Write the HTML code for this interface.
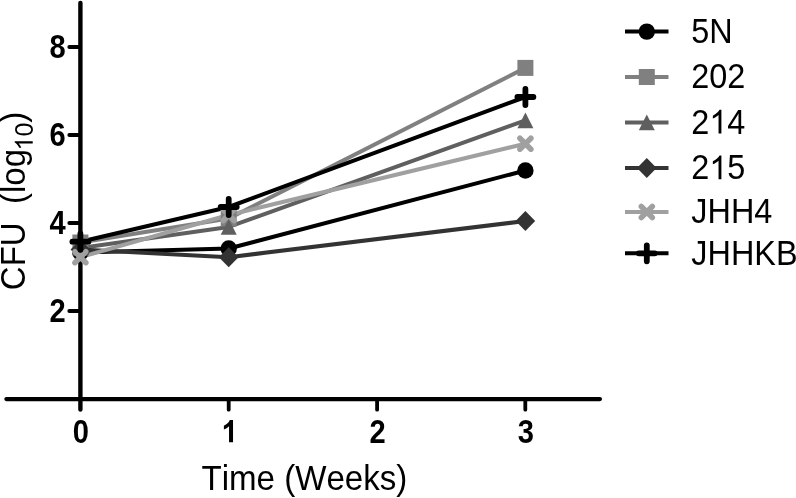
<!DOCTYPE html>
<html><head><meta charset="utf-8"><style>
html,body{margin:0;padding:0;background:#fff;width:796px;height:498px;overflow:hidden}
svg{display:block;will-change:transform;font-family:"Liberation Sans",sans-serif} text{font-kerning:none}
</style></head><body>
<svg width="796" height="498" viewBox="0 0 796 498">
<g stroke="#000" stroke-linecap="round" fill="none">
<path d="M80.4,3V409.5" stroke-width="4.4"/>
<path d="M6.4,399.1H599.9" stroke-width="4.3"/>
<path d="M69.3,47H80" stroke-width="3.8"/>
<path d="M69.3,135H80" stroke-width="3.8"/>
<path d="M69.3,223H80" stroke-width="3.8"/>
<path d="M69.3,311H80" stroke-width="3.8"/>
<path d="M228.7,399V409.7" stroke-width="3.8"/>
<path d="M377.1,399V409.7" stroke-width="3.8"/>
<path d="M525.3,399V409.7" stroke-width="3.8"/>
</g>
<g font-family="Liberation Sans, sans-serif" font-weight="bold" font-size="30" fill="#000">
<text transform="translate(57.5,57.8) scale(0.97,1.08)" text-anchor="middle">8</text>
<text transform="translate(57.5,145.8) scale(0.97,1.08)" text-anchor="middle">6</text>
<text transform="translate(57.5,233.8) scale(0.97,1.08)" text-anchor="middle">4</text>
<text transform="translate(57.5,321.8) scale(0.97,1.08)" text-anchor="middle">2</text>
<text transform="translate(80.8,443) scale(0.97,1.08)" text-anchor="middle">0</text>
<g transform="translate(228.9,442.2) scale(0.97,1.025)"><path transform="translate(-8.34,0) scale(0.01465,-0.01465)" d="M860 0H579V1059Q425 915 216 846V1101Q326 1137 455 1237Q584 1337 632 1472H860V0Z"/></g>
<text transform="translate(377.5,443) scale(0.97,1.08)" text-anchor="middle">2</text>
<text transform="translate(525.8,443) scale(0.97,1.08)" text-anchor="middle">3</text>
</g>
<g font-family="Liberation Sans, sans-serif" font-size="32" fill="#000">
<text transform="translate(304.4,490) scale(1,1.045)" font-size="33.1" text-anchor="middle">Time (Weeks)</text>
<g transform="translate(25.0,290.2) rotate(-90) scale(1,1.045)" font-size="33"><text x="0" y="0" xml:space="preserve">CFU  (log</text><g font-size="25"><path transform="translate(139.68,7.4) scale(0.01221,-0.01172)" d="M763 0H583V1147Q518 1085 412.5 1023Q307 961 223 930V1104Q374 1175 487 1276Q600 1377 647 1472H763V0Z"/><text x="153.59" y="7.4" xml:space="preserve">0</text></g><text x="167.49" y="0">)</text></g>
</g>
<polyline points="80.4,252.5 228.7,248.5 525.4,170.5" fill="none" stroke="#000000" stroke-width="4.0" stroke-linejoin="round"/>
<polyline points="80.4,242.5 228.7,218.5 525.4,67.9" fill="none" stroke="#808080" stroke-width="4.0" stroke-linejoin="round"/>
<polyline points="80.4,248.0 228.7,226.9 525.4,120.4" fill="none" stroke="#5f5f5f" stroke-width="4.0" stroke-linejoin="round"/>
<polyline points="80.4,249.5 228.7,257.2 525.4,221.0" fill="none" stroke="#333333" stroke-width="4.0" stroke-linejoin="round"/>
<polyline points="80.4,257.2 228.7,215.0 525.4,143.7" fill="none" stroke="#a0a0a0" stroke-width="4.0" stroke-linejoin="round"/>
<polyline points="80.4,241.7 228.7,207.0 525.4,97.0" fill="none" stroke="#000000" stroke-width="4.0" stroke-linejoin="round"/>
<circle cx="80.4" cy="252.5" r="8.2" fill="#000000"/>
<circle cx="228.7" cy="248.5" r="8.2" fill="#000000"/>
<circle cx="525.4" cy="170.5" r="8.2" fill="#000000"/>
<rect x="72.4" y="234.5" width="16" height="16" fill="#808080"/>
<rect x="220.7" y="210.5" width="16" height="16" fill="#808080"/>
<rect x="517.4" y="59.900000000000006" width="16" height="16" fill="#808080"/>
<polygon points="80.4,240.2 88.4,255.8 72.4,255.8" fill="#5f5f5f"/>
<polygon points="228.7,219.1 236.7,234.70000000000002 220.7,234.70000000000002" fill="#5f5f5f"/>
<polygon points="525.4,112.60000000000001 533.4,128.20000000000002 517.4,128.20000000000002" fill="#5f5f5f"/>
<polygon points="80.4,239.5 90.2,249.5 80.4,259.5 70.60000000000001,249.5" fill="#333333"/>
<polygon points="228.7,247.2 238.5,257.2 228.7,267.2 218.89999999999998,257.2" fill="#333333"/>
<polygon points="525.4,211.0 535.1999999999999,221.0 525.4,231.0 515.6,221.0" fill="#333333"/>
<path d="M74.9,251.7L85.9,262.7M85.9,251.7L74.9,262.7" stroke="#a0a0a0" stroke-width="5.5" stroke-linecap="round"/>
<path d="M223.2,209.5L234.2,220.5M234.2,209.5L223.2,220.5" stroke="#a0a0a0" stroke-width="5.5" stroke-linecap="round"/>
<path d="M519.9,138.2L530.9,149.2M530.9,138.2L519.9,149.2" stroke="#a0a0a0" stroke-width="5.5" stroke-linecap="round"/>
<path d="M72.4,241.7H88.4M80.4,233.7V249.7" stroke="#000000" stroke-width="5.8" stroke-linecap="round"/>
<path d="M220.7,207.0H236.7M228.7,199.0V215.0" stroke="#000000" stroke-width="5.8" stroke-linecap="round"/>
<path d="M517.4,97.0H533.4M525.4,89.0V105.0" stroke="#000000" stroke-width="5.8" stroke-linecap="round"/>
<g font-family="Liberation Sans, sans-serif" font-size="32.4" fill="#000">
<path d="M625,31.6H668.5" stroke="#000000" stroke-width="4.0"/>
<circle cx="646.8" cy="31.6" r="8.2" fill="#000000"/>
<g transform="translate(691.3,42.8) scale(1,1.07)"><text x="0.00" y="0" xml:space="preserve">5N</text></g>
<path d="M625,77.0H668.5" stroke="#808080" stroke-width="4.0"/>
<rect x="638.8" y="69.0" width="16" height="16" fill="#808080"/>
<g transform="translate(691.3,88.2) scale(1,1.07)"><text x="0.00" y="0" xml:space="preserve">202</text></g>
<path d="M625,122.4H668.5" stroke="#5f5f5f" stroke-width="4.0"/>
<polygon points="646.8,114.60000000000001 654.8,130.20000000000002 638.8,130.20000000000002" fill="#5f5f5f"/>
<g transform="translate(691.3,133.6) scale(1,1.07)"><text x="0.00" y="0" xml:space="preserve">2</text><path transform="translate(18.02,0) scale(0.01582,-0.01519)" d="M763 0H583V1147Q518 1085 412.5 1023Q307 961 223 930V1104Q374 1175 487 1276Q600 1377 647 1472H763V0Z"/><text x="36.04" y="0" xml:space="preserve">4</text></g>
<path d="M625,168.1H668.5" stroke="#333333" stroke-width="4.0"/>
<polygon points="646.8,158.1 656.5999999999999,168.1 646.8,178.1 637.0,168.1" fill="#333333"/>
<g transform="translate(691.3,179.29999999999998) scale(1,1.07)"><text x="0.00" y="0" xml:space="preserve">2</text><path transform="translate(18.02,0) scale(0.01582,-0.01519)" d="M763 0H583V1147Q518 1085 412.5 1023Q307 961 223 930V1104Q374 1175 487 1276Q600 1377 647 1472H763V0Z"/><text x="36.04" y="0" xml:space="preserve">5</text></g>
<path d="M625,212.0H668.5" stroke="#a0a0a0" stroke-width="4.0"/>
<path d="M641.3,206.5L652.3,217.5M652.3,206.5L641.3,217.5" stroke="#a0a0a0" stroke-width="5.5" stroke-linecap="round"/>
<g transform="translate(691.3,223.2) scale(1,1.07)"><text x="0.00" y="0" xml:space="preserve">JHH4</text></g>
<path d="M625,253.3H668.5" stroke="#000000" stroke-width="4.0"/>
<path d="M638.8,253.3H654.8M646.8,245.3V261.3" stroke="#000000" stroke-width="5.8" stroke-linecap="round"/>
<g transform="translate(691.3,264.5) scale(1,1.07)"><text x="0.00" y="0" xml:space="preserve">JHHKB</text></g>
</g>
</svg>
</body></html>
